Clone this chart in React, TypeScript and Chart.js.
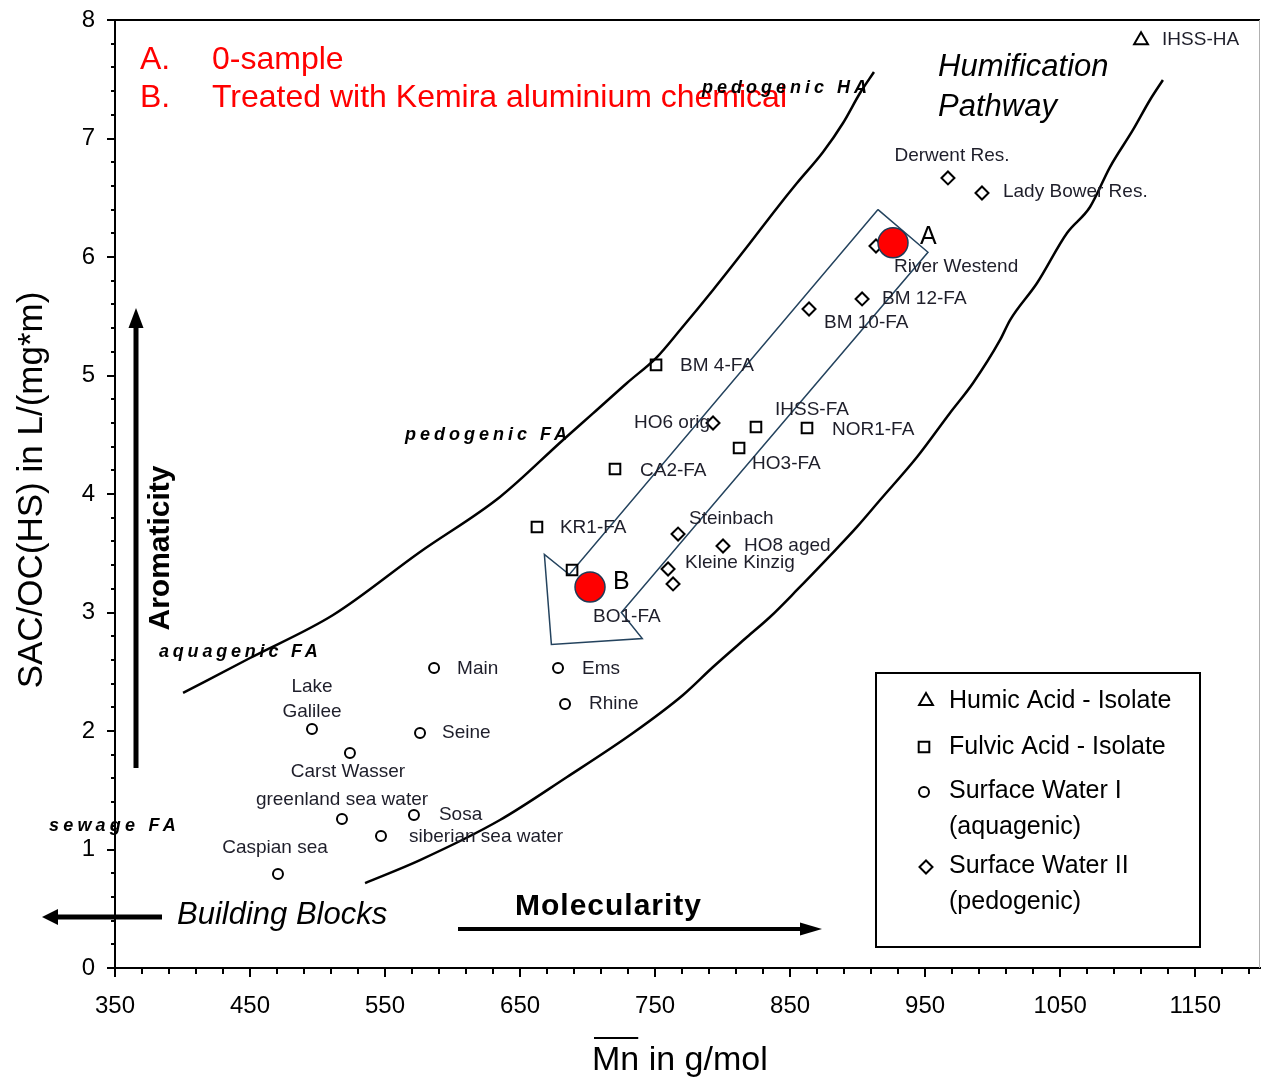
import React, { useEffect, useRef } from 'react';
import { Chart, registerables } from 'chart.js';

Chart.register(...registerables);

const FONT = '"Liberation Sans", Arial, Helvetica, sans-serif';

// ---------------- data ----------------
const xTickLabels = [350, 450, 550, 650, 750, 850, 950, 1050, 1150];
const yTickLabels = [0, 1, 2, 3, 4, 5, 6, 7, 8];

// Humic Acid - Isolate
const haNames = ['IHSS-HA'];
const haX = [1109.9];
const haY = [7.83];

// Fulvic Acid - Isolate
const faNames = ['BM 4-FA', 'IHSS-FA', 'NOR1-FA', 'HO3-FA', 'CA2-FA', 'KR1-FA', 'BO1-FA'];
const faX = [750.7, 824.7, 862.5, 812.2, 720.3, 662.5, 688.5];
const faY = [5.09, 4.565, 4.557, 4.388, 4.211, 3.722, 3.359];

// Surface Water I (aquagenic)
const sw1Names = ['Main', 'Ems', 'Rhine', 'Seine', 'Lake\nGalilee', 'Carst Wasser', 'greenland sea water', 'Sosa', 'siberian sea water', 'Caspian sea'];
const sw1X = [586.3, 678.1, 683.3, 575.9, 495.9, 524.0, 518.1, 571.4, 547.0, 470.7];
const sw1Y = [2.532, 2.532, 2.228, 1.983, 2.017, 1.814, 1.257, 1.291, 1.114, 0.793];

// Surface Water II (pedogenic)
const sw2Names = ['Derwent Res.', 'Lady Bower Res.', 'River Westend', 'BM 12-FA', 'BM 10-FA', 'HO6 orig', 'Steinbach', 'HO8 aged', 'Kleine Kinzig', ''];
const sw2X = [966.9, 992.1, 913.6, 903.3, 864.0, 792.9, 767.0, 800.3, 759.6, 763.3];
const sw2Y = [6.667, 6.54, 6.093, 5.646, 5.561, 4.599, 3.662, 3.561, 3.367, 3.241];

// Samples (red)
const sampleNames = ['A', 'B'];
const sampleX = [926.2, 701.8];
const sampleY = [6.12, 3.215];

// Boundary curves
const curveUpperX = [400.4, 450.0, 511.5, 575.9, 635.1, 681.8, 704.0, 729.2, 751.4, 768.5, 792.9, 820.3, 840.3, 855.1, 874.4, 889.2, 901.8, 912.1];
const curveUpperY = [2.321, 2.616, 2.979, 3.511, 3.975, 4.456, 4.68, 4.937, 5.156, 5.384, 5.722, 6.118, 6.414, 6.624, 6.886, 7.131, 7.384, 7.561];
const curveLowerX = [535.2, 575.9, 635.1, 684.8, 733.6, 770.7, 792.9, 818.1, 835.1, 855.1, 879.6, 899.5, 916.6, 944.0, 968.4, 985.5, 1005.5, 1012.9, 1032.9, 1055.1, 1072.1, 1086.9, 1103.9, 1116.5, 1126.1];
const curveLowerY = [0.717, 0.911, 1.249, 1.612, 1.983, 2.304, 2.54, 2.793, 2.962, 3.19, 3.48, 3.722, 3.949, 4.312, 4.684, 4.937, 5.3, 5.468, 5.781, 6.203, 6.422, 6.759, 7.072, 7.325, 7.494];

// Big hollow arrow (pathway reversed by treatment)
const arrowX = [915.1, 686.5, 668.0, 673.2, 740.5, 725.0, 952.1, 915.1];
const arrowY = [6.40, 3.32, 3.49, 2.73, 2.78, 3.00, 6.04, 6.40];

const legendLabels = [['Humic Acid - Isolate'], ['Fulvic Acid - Isolate'], ['Surface Water I', '(aquagenic)'], ['Surface Water II', '(pedogenic)']];

// ---------------- styles ----------------
const labelOffsets: Record<string, [number, number, CanvasTextAlign]> = {
  'IHSS-HA': [21, 0, 'left'],
  'BM 4-FA': [24, 1, 'left'],
  'IHSS-FA': [19, -17, 'left'],
  'NOR1-FA': [25, 2, 'left'],
  'HO3-FA': [13, 16, 'left'],
  'CA2-FA': [25, 2, 'left'],
  'KR1-FA': [23, 1, 'left'],
  'BO1-FA': [21, 47, 'left'],
  'Main': [23, 1, 'left'],
  'Ems': [24, 1, 'left'],
  'Rhine': [24, 0, 'left'],
  'Seine': [22, 0, 'left'],
  'Lake\nGalilee': [0, -42, 'center'],
  'Carst Wasser': [-2, 19, 'center'],
  'greenland sea water': [0, -19, 'center'],
  'Sosa': [25, 0, 'left'],
  'siberian sea water': [28, 1, 'left'],
  'Caspian sea': [-3, -26, 'center'],
  'Derwent Res.': [4, -22, 'center'],
  'Lady Bower Res.': [21, -1, 'left'],
  'River Westend': [18, 21, 'left'],
  'BM 12-FA': [20, 0, 'left'],
  'BM 10-FA': [15, 14, 'left'],
  'HO6 orig': [-79, 0, 'left'],
  'Steinbach': [11, -15, 'left'],
  'HO8 aged': [21, 0, 'left'],
  'Kleine Kinzig': [17, -6, 'left'],
};
const sampleLabelOffsets: [number, number][] = [[27, -6], [23, -5]];

function pts(xs: number[], ys: number[]) {
  return xs.map((x, i) => ({ x, y: ys[i] }));
}

function drawMarker(ctx: CanvasRenderingContext2D, style: string, x: number, y: number) {
  ctx.save();
  ctx.strokeStyle = '#000';
  ctx.lineWidth = 2;
  ctx.beginPath();
  if (style === 'triangle') {
    const r = 8;
    ctx.moveTo(x, y - r);
    ctx.lineTo(x + r * Math.sin(2 * Math.PI / 3), y + r / 2);
    ctx.lineTo(x - r * Math.sin(2 * Math.PI / 3), y + r / 2);
    ctx.closePath();
  } else if (style === 'rect') {
    const s = 5.3;
    ctx.rect(x - s, y - s, 2 * s, 2 * s);
  } else if (style === 'circle') {
    ctx.arc(x, y, 5, 0, Math.PI * 2);
  } else {
    const r = 6.5;
    ctx.moveTo(x - r, y);
    ctx.lineTo(x, y - r);
    ctx.lineTo(x + r, y);
    ctx.lineTo(x, y + r);
    ctx.closePath();
  }
  ctx.stroke();
  ctx.restore();
}

function drawArrow(ctx: CanvasRenderingContext2D, x1: number, y1: number, x2: number, y2: number, w: number, headLen: number, headW: number) {
  const ang = Math.atan2(y2 - y1, x2 - x1);
  const bx = x2 - Math.cos(ang) * headLen;
  const by = y2 - Math.sin(ang) * headLen;
  ctx.save();
  ctx.strokeStyle = '#000';
  ctx.fillStyle = '#000';
  ctx.lineWidth = w;
  ctx.beginPath();
  ctx.moveTo(x1, y1);
  ctx.lineTo(bx + Math.cos(ang) * 2, by + Math.sin(ang) * 2);
  ctx.stroke();
  const nx = -Math.sin(ang), ny = Math.cos(ang);
  ctx.beginPath();
  ctx.moveTo(x2, y2);
  ctx.lineTo(bx + nx * headW / 2, by + ny * headW / 2);
  ctx.lineTo(bx - nx * headW / 2, by - ny * headW / 2);
  ctx.closePath();
  ctx.fill();
  ctx.restore();
}

function spacedText(ctx: CanvasRenderingContext2D, text: string, x: number, y: number, spacing: number) {
  const c = ctx as any;
  if ('letterSpacing' in c) {
    c.letterSpacing = spacing + 'px';
    ctx.fillText(text, x, y);
    c.letterSpacing = '0px';
  } else {
    let cx = x;
    for (const ch of text) {
      ctx.fillText(ch, cx, y);
      cx += ctx.measureText(ch).width + spacing;
    }
  }
}

const overlayPlugin = {
  id: 'overlay',
  afterDatasetsDraw(chart: any) {
    const ctx: CanvasRenderingContext2D = chart.ctx;
    const xs = chart.scales.x;
    const ys = chart.scales.y;
    ctx.save();
    ctx.fillStyle = '#1e1e2a';
    ctx.font = `19px ${FONT}`;
    ctx.textBaseline = 'middle';
    const groups: [string[], number[], number[]][] = [
      [haNames, haX, haY], [faNames, faX, faY], [sw1Names, sw1X, sw1Y], [sw2Names, sw2X, sw2Y],
    ];
    groups.forEach(([names, X, Y]) => {
      names.forEach((name, i) => {
        if (!name) return;
        const off = labelOffsets[name] || [20, 0, 'left'];
        const px = xs.getPixelForValue(X[i]);
        const py = ys.getPixelForValue(Y[i]);
        ctx.textAlign = off[2];
        name.split('\n').forEach((line, k) => ctx.fillText(line, px + off[0], py + off[1] + k * 25));
      });
    });
    ctx.font = `25px ${FONT}`;
    ctx.fillStyle = '#000';
    ctx.textAlign = 'left';
    sampleNames.forEach((n, i) => {
      const px = xs.getPixelForValue(sampleX[i]);
      const py = ys.getPixelForValue(sampleY[i]);
      ctx.fillText(n, px + sampleLabelOffsets[i][0], py + sampleLabelOffsets[i][1]);
    });
    ctx.restore();
  },
  afterDraw(chart: any) {
    const ctx: CanvasRenderingContext2D = chart.ctx;
    const xs = chart.scales.x;
    const ys = chart.scales.y;
    const area = chart.chartArea;
    ctx.save();
    // frame
    ctx.strokeStyle = '#000';
    ctx.lineWidth = 2;
    ctx.beginPath();
    ctx.moveTo(area.left, area.top);
    ctx.lineTo(area.right, area.top);
    ctx.stroke();
    ctx.strokeStyle = '#b0b0b0';
    ctx.lineWidth = 1;
    ctx.beginPath();
    ctx.moveTo(area.right - 0.5, area.top);
    ctx.lineTo(area.right - 0.5, area.bottom);
    ctx.stroke();
    // ticks
    ctx.strokeStyle = '#000';
    ctx.lineWidth = 2;
    for (let v = 350; v <= 1198; v += 20) {
      const px = Math.round(xs.getPixelForValue(v));
      const major = (v - 350) % 100 === 0;
      ctx.beginPath();
      ctx.moveTo(px, area.bottom);
      ctx.lineTo(px, area.bottom + (major ? 9 : 6));
      ctx.stroke();
    }
    for (let k = 0; k <= 40; k++) {
      const py = Math.round(ys.getPixelForValue(k / 5));
      const major = k % 5 === 0;
      ctx.beginPath();
      ctx.moveTo(area.left, py);
      ctx.lineTo(area.left - (major ? 8 : 4), py);
      ctx.stroke();
    }
    // axis titles
    ctx.fillStyle = '#000';
    ctx.textBaseline = 'middle';
    ctx.save();
    ctx.translate(32, 490);
    ctx.rotate(-Math.PI / 2);
    ctx.textAlign = 'center';
    ctx.font = `35px ${FONT}`;
    ctx.fillText('SAC/OC(HS) in L/(mg*m)', 0, 0);
    ctx.restore();
    ctx.font = `34px ${FONT}`;
    ctx.textAlign = 'left';
    ctx.fillText('Mn in g/mol', 592, 1061);
    const mnW = ctx.measureText('Mn').width;
    ctx.lineWidth = 2;
    ctx.beginPath();
    ctx.moveTo(594, 1038);
    ctx.lineTo(592 + mnW - 1, 1038);
    ctx.stroke();

    // red legend text
    ctx.fillStyle = '#ff0000';
    ctx.font = `32px ${FONT}`;
    ctx.fillText('A.', 140, 60);
    ctx.fillText('0-sample', 212, 60);
    ctx.fillText('B.', 140, 98);
    ctx.fillText('Treated with Kemira aluminium chemical', 212, 98);

    // region labels
    ctx.fillStyle = '#000';
    ctx.font = `italic bold 18px ${FONT}`;
    spacedText(ctx, 'pedogenic HA', 702, 88, 4);
    spacedText(ctx, 'pedogenic FA', 405, 435, 4);
    spacedText(ctx, 'aquagenic FA', 159, 652, 3.8);
    spacedText(ctx, 'sewage FA', 49, 826, 4.2);

    ctx.font = `italic 31px ${FONT}`;
    ctx.fillText('Humification', 938, 67);
    ctx.fillText('Pathway', 938, 107);
    ctx.fillText('Building Blocks', 177, 915);

    ctx.font = `bold 30px ${FONT}`;
    spacedText(ctx, 'Molecularity', 515, 907, 1);

    ctx.save();
    ctx.translate(161, 548);
    ctx.rotate(-Math.PI / 2);
    ctx.textAlign = 'center';
    ctx.font = `bold 30px ${FONT}`;
    ctx.fillText('Aromaticity', 0, 0);
    ctx.restore();

    // arrows
    drawArrow(ctx, 136, 768, 136, 308, 5, 20, 15);
    drawArrow(ctx, 162, 917, 42, 917, 5, 16, 16);
    drawArrow(ctx, 458, 929, 822, 929, 4, 22, 13);

    // legend box
    ctx.fillStyle = '#fff';
    ctx.fillRect(876, 673, 324, 274);
    ctx.strokeStyle = '#000';
    ctx.lineWidth = 2;
    ctx.strokeRect(876, 673, 324, 274);
    const markerStyles = ['triangle', 'rect', 'circle', 'rectRot'];
    const markerY = [701, 747, 792, 867];
    const markerX = [926, 924, 924, 926];
    const textY = [[701], [747], [791, 827], [866, 902]];
    ctx.fillStyle = '#000';
    ctx.font = `25px ${FONT}`;
    ctx.textAlign = 'left';
    legendLabels.forEach((lines, i) => {
      drawMarker(ctx, markerStyles[i], markerX[i], markerY[i]);
      lines.forEach((t, k) => ctx.fillText(t, 949, textY[i][k]));
    });
    ctx.restore();
  },
};

const zeroPad = (s: any) => {
  s.paddingTop = 0;
  s.paddingBottom = 0;
  s.paddingLeft = 0;
  s.paddingRight = 0;
};

export default function App() {
  const ref = useRef<HTMLCanvasElement | null>(null);
  useEffect(() => {
    document.body.style.margin = '0';
    const canvas = ref.current;
    if (!canvas) return;
    const chart = new Chart(canvas, {
      type: 'scatter',
      data: {
        datasets: [
          {
            label: 'Samples',
            data: pts(sampleX, sampleY),
            pointStyle: 'circle',
            pointRadius: 15,
            backgroundColor: '#ff0000',
            borderColor: '#1f3a56',
            borderWidth: 1.5,
            order: 0,
          },
          {
            label: 'Humic Acid - Isolate',
            data: pts(haX, haY),
            pointStyle: 'triangle',
            pointRadius: 8,
            backgroundColor: 'rgba(0,0,0,0)',
            borderColor: '#000',
            borderWidth: 2,
            order: 1,
          },
          {
            label: 'Fulvic Acid - Isolate',
            data: pts(faX, faY),
            pointStyle: 'rect',
            pointRadius: 7.5,
            backgroundColor: 'rgba(0,0,0,0)',
            borderColor: '#000',
            borderWidth: 2,
            order: 1,
          },
          {
            label: 'Surface Water I (aquagenic)',
            data: pts(sw1X, sw1Y),
            pointStyle: 'circle',
            pointRadius: 5,
            backgroundColor: 'rgba(0,0,0,0)',
            borderColor: '#000',
            borderWidth: 2,
            order: 1,
          },
          {
            label: 'Surface Water II (pedogenic)',
            data: pts(sw2X, sw2Y),
            pointStyle: 'rectRot',
            pointRadius: 6.5,
            backgroundColor: 'rgba(0,0,0,0)',
            borderColor: '#000',
            borderWidth: 2,
            order: 1,
          },
          {
            label: 'Pathway arrow',
            data: pts(arrowX, arrowY),
            showLine: true,
            pointRadius: 0,
            borderColor: '#24435e',
            borderWidth: 1.5,
            fill: false,
            tension: 0,
            order: 2,
          },
          {
            label: 'Upper boundary',
            data: pts(curveUpperX, curveUpperY),
            showLine: true,
            pointRadius: 0,
            borderColor: '#000',
            borderWidth: 2.5,
            cubicInterpolationMode: 'monotone',
            order: 3,
          },
          {
            label: 'Lower boundary',
            data: pts(curveLowerX, curveLowerY),
            showLine: true,
            pointRadius: 0,
            borderColor: '#000',
            borderWidth: 2.5,
            cubicInterpolationMode: 'monotone',
            order: 3,
          },
        ],
      },
      options: {
        animation: false,
        responsive: false,
        maintainAspectRatio: false,
        devicePixelRatio: 1,
        events: [],
        layout: { autoPadding: false, padding: { top: 20, right: 2, left: 0, bottom: 0 } },
        plugins: { legend: { display: false }, tooltip: { enabled: false } },
        scales: {
          x: {
            type: 'linear',
            min: 350,
            max: 1198,
            afterBuildTicks: (s: any) => { s.ticks = xTickLabels.map((v) => ({ value: v })); },
            afterFit: (s: any) => { s.height = 113; zeroPad(s); },
            grid: { display: false, drawTicks: false },
            border: { display: true, color: '#000', width: 2 },
            ticks: {
              autoSkip: false,
              maxRotation: 0,
              padding: 24,
              color: '#000',
              font: { family: FONT, size: 24 },
              callback: (v: any) => String(v),
            },
          },
          y: {
            type: 'linear',
            min: 0,
            max: 8,
            afterBuildTicks: (s: any) => { s.ticks = yTickLabels.map((v) => ({ value: v })); },
            afterFit: (s: any) => { s.width = 115; zeroPad(s); },
            grid: { display: false, drawTicks: false },
            border: { display: true, color: '#000', width: 2 },
            ticks: {
              autoSkip: false,
              padding: 20,
              color: '#000',
              font: { family: FONT, size: 24 },
              callback: (v: any) => String(v),
            },
          },
        },
      } as any,
      plugins: [overlayPlugin],
    });
    return () => chart.destroy();
  }, []);
  return (
    <div style={{ width: 1262, height: 1081, background: '#fff' }}>
      <canvas ref={ref} width={1262} height={1081} style={{ display: 'block' }} />
    </div>
  );
}
